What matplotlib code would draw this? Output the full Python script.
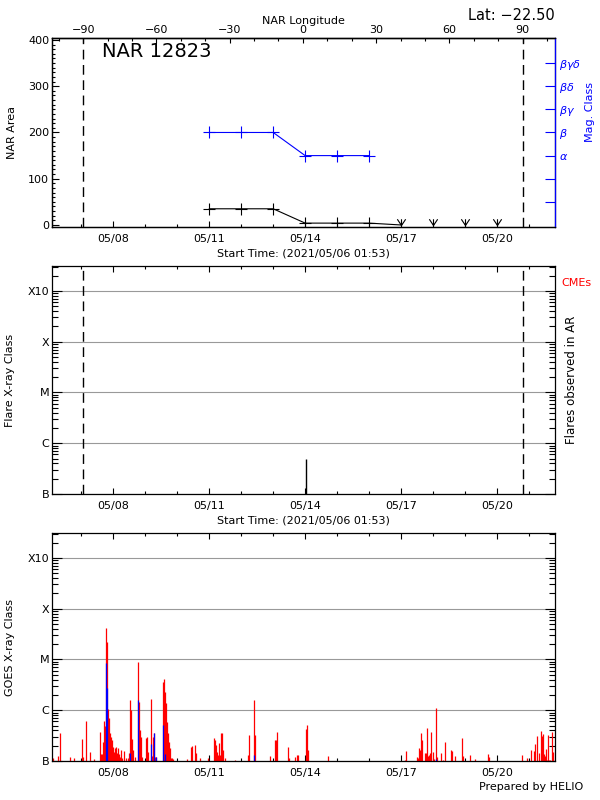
import numpy as np
import matplotlib
matplotlib.use("Agg")
import matplotlib.pyplot as plt
from matplotlib.path import Path
from matplotlib.ticker import MultipleLocator, LogLocator, NullFormatter, FixedLocator

plt.rcParams['font.family'] = ['DejaVu Sans']
plt.rcParams['axes.linewidth'] = 0.9

# ---------------- data (time in hours since 2021/05/06 00:00) ----------------
t_start = 1.88          # 01:53
t_end = 379.88
date_ticks = [48, 120, 192, 264, 336]
date_labels = ['05/08', '05/11', '05/14', '05/17', '05/20']
day_ticks = list(range(24, 380, 24))

# NAR 12823 area (black) and mag. class (blue)
nar_t = [120, 144, 168, 192, 216, 240, 264, 288, 312, 336]
nar_area = [35, 35, 35, 4, 4, 4, 0, 0, 0, 0]
mag_t = [120, 144, 168, 192, 216, 240]
mag_val = [200, 200, 200, 150, 150, 150]
mag_ticks = [50, 100, 150, 200, 250, 300, 350]
mag_labels = ['', '', r'$\alpha$', r'$\beta$', r'$\beta\gamma$', r'$\beta\delta$', r'$\beta\gamma\delta$']

# longitude axis
lon_ticks = [-90, -60, -30, 0, 30, 60, 90]
lon0_t = 190.3      # central meridian time
lon_rate = 0.5455   # deg / hour
limb_lon = [-90, 90]

# flares observed in AR
flare_t = [192.5]
flare_flux = [4.9e-7]

# GOES X-ray flux (red) and AR flares part (blue)
goes_t = [2.5, 6.0, 7.5, 15.75, 18.75, 24.5, 25.25, 27.5, 30.75, 33.75,
          38.0, 38.75, 39.75, 40.5, 41.25, 42.0, 42.5, 43.25, 44.0, 44.75,
          45.5, 46.25, 47.0, 47.75, 48.5, 49.25, 50.0, 50.75, 51.5, 52.25,
          53.0, 53.75, 54.5, 56.0, 57.5, 58.75, 59.75, 60.75, 61.25, 62.0,
          62.75, 64.5, 66.5, 67.25, 68.0, 68.75, 69.5, 72.75, 73.5, 74.25,
          76.5, 77.25, 78.0, 78.75, 79.5, 80.25, 85.5, 86.25, 87.0, 87.75,
          88.5, 89.25, 90.0, 90.75, 91.5, 92.25, 93.0, 103.5, 106.5, 107.25,
          109.5, 110.25, 113.25, 119.25, 123.25, 124.0, 124.75, 125.5, 126.25, 127.0,
          127.75, 128.5, 129.25, 130.0, 131.5, 139.5, 149.25, 150.0, 153.75, 154.5,
          165.75, 169.5, 170.25, 171.0, 179.25, 180.0, 184.5, 186.0, 186.75, 192.75,
          193.5, 194.25, 209.25, 267.0, 267.75, 276.0, 276.75, 277.5, 278.25, 279.0,
          279.75, 282.0, 282.75, 283.5, 284.25, 285.0, 285.75, 286.5, 288.0, 288.75,
          290.25, 291.0, 294.0, 295.5, 297.0, 301.5, 302.25, 304.5, 309.75, 310.5,
          315.75, 319.5, 329.25, 330.0, 354.75, 358.5, 361.5, 363.75, 364.5, 366.0,
          367.5, 369.0, 369.75, 370.5, 371.25, 372.0, 372.75, 373.5, 374.25, 375.0,
          375.75, 377.25, 378.0]
goes_flux = [1.13e-7, 1.27e-7, 3.55e-7, 1.22e-7, 1.16e-7, 2.75e-7, 1.22e-7, 6.1e-7, 1.53e-7, 1.08e-7,
             3.77e-7, 1.35e-7, 1.35e-7, 2.4e-7, 6.1e-7, 4.9e-7, 4.2e-5, 2.2e-5, 1.08e-6, 6.9e-7,
             3.5e-7, 3.0e-7, 2.59e-7, 1.91e-7, 1.53e-7, 1.77e-7, 1.85e-7, 1.41e-7, 1.77e-7, 1.35e-7,
             1.22e-7, 1.64e-7, 1.16e-7, 1.57e-7, 1.13e-7, 1.16e-7, 1.41e-7, 1.58e-6, 1.0e-6, 2.75e-7,
             1.64e-7, 1.22e-7, 8.9e-6, 1.47e-6, 4.06e-7, 3.0e-7, 1.22e-7, 2.79e-7, 3.0e-7, 1.48e-7,
             1.7e-6, 1.25e-7, 2.92e-7, 3.5e-7, 1.22e-7, 1.22e-7, 3.6e-6, 4.1e-6, 2.3e-6, 1.4e-6,
             5.9e-7, 3.6e-7, 2.4e-7, 1.77e-7, 1.16e-7, 1.16e-7, 1.08e-7, 1.08e-7, 1.91e-7, 2.0e-7,
             2.06e-7, 1.46e-7, 1.16e-7, 1.16e-7, 2.79e-7, 2.59e-7, 2.06e-7, 1.53e-7, 1.31e-7, 2.22e-7,
             1.31e-7, 3.5e-7, 3.6e-7, 1.64e-7, 1.13e-7, 1.05e-7, 1.31e-7, 3.24e-7, 1.58e-6, 3.24e-7,
             1.25e-7, 2.59e-7, 2.59e-7, 3.7e-7, 1.91e-7, 1.16e-7, 1.22e-7, 1.31e-7, 1.31e-7, 4.25e-7,
             5.1e-7, 1.64e-7, 1.25e-7, 1.05e-7, 1.57e-7, 1.22e-7, 1.13e-7, 1.77e-7, 1.64e-7, 3.5e-7,
             2.59e-7, 1.41e-7, 1.41e-7, 4.5e-7, 1.25e-7, 1.31e-7, 1.41e-7, 3.66e-7, 1.48e-7, 1.08e-7,
             1.1e-6, 1.22e-7, 1.41e-7, 1.05e-7, 2.4e-7, 1.64e-7, 1.57e-7, 1.25e-7, 2.87e-7, 1.25e-7,
             1.31e-7, 1.1e-7, 1.37e-7, 1.22e-7, 1.31e-7, 1.16e-7, 1.64e-7, 1.57e-7, 2.16e-7, 3.1e-7,
             1.41e-7, 3.9e-7, 3.15e-7, 3.39e-7, 1.35e-7, 1.25e-7, 1.72e-7, 1.05e-7, 3.24e-7, 1.05e-7,
             1.05e-7, 3.77e-7, 1.53e-7]
blue_t = [42.5, 43.25, 60.75, 66.5, 76.5, 78.75, 80.25, 85.5, 87.0, 153.75, 290.25]
blue_flux = [8.5e-6, 2.7e-6, 1.41e-7, 1.58e-6, 2.16e-7, 3.5e-7, 1.22e-7, 5.1e-7, 1.35e-7, 1.31e-7, 1.08e-7]

class_ticks = [1e-7, 1e-6, 1e-5, 1e-4, 1e-3]
class_labels = ['B', 'C', 'M', 'X', 'X10']

fs = 8
start_label = 'Start Time: (2021/05/06 01:53)'

fig = plt.figure(figsize=(6, 8), dpi=100)
L, W = 0.0867, 0.8388


def time_axis(ax, labels=True, top=True):
    ax.set_xlim(t_start, t_end)
    ax.xaxis.set_major_locator(FixedLocator(date_ticks))
    ax.xaxis.set_minor_locator(FixedLocator(day_ticks))
    if labels:
        ax.set_xticklabels(date_labels)
    ax.tick_params(axis='x', which='major', direction='in', length=4, width=0.8,
                   top=top, labelsize=fs, pad=5)
    ax.tick_params(axis='x', which='minor', direction='in', length=2.4, width=0.8, top=top)


def class_axis(ax):
    ax.set_yscale('log')
    ax.set_ylim(1e-7, 3.1e-3)
    ax.set_yticks(class_ticks)
    ax.set_yticklabels(class_labels)
    ax.yaxis.set_minor_locator(LogLocator(base=10, subs=np.arange(2, 10)))
    ax.yaxis.set_minor_formatter(NullFormatter())
    ax.tick_params(axis='y', which='major', direction='in', length=7, width=0.8,
                   right=True, labelsize=fs, pad=2)
    ax.tick_params(axis='y', which='minor', direction='in', length=4.5, width=0.8, right=True)
    ax.grid(axis='y', which='major', color='0.6', lw=0.8)
    ax.set_axisbelow(True)


limb_t = [lon / lon_rate + lon0_t for lon in limb_lon]
dash = (0, (7, 4))

# ---------------- top panel: NAR area ----------------
ax1 = fig.add_axes([L, 0.7159, W, 0.237])
time_axis(ax1, top=False)
ax1.set_ylim(-5, 405)
ax1.yaxis.set_major_locator(MultipleLocator(100))
ax1.yaxis.set_minor_locator(MultipleLocator(10))
ax1.tick_params(axis='y', which='major', direction='in', length=4.8, width=0.8, labelsize=fs, pad=2)
ax1.tick_params(axis='y', which='minor', direction='in', length=2.4, width=0.8)
ax1.set_ylabel('NAR Area', fontsize=fs)
ax1.yaxis.set_label_coords(-0.07, 0.5)
ax1.set_xlabel(start_label, fontsize=fs, labelpad=3)
for t in limb_t:
    ax1.axvline(t, color='k', lw=1, linestyle=dash)

ax1.plot(nar_t[:7], nar_area[:7], color='k', lw=0.8)
ax1.plot(nar_t[:6], nar_area[:6], 'k+', ms=8, mew=0.8)
down_mark = Path([(0, 0), (-1, 1.5), (0, 0), (0, 1.5), (0, 0), (1, 1.5)],
                 [Path.MOVETO, Path.LINETO, Path.MOVETO, Path.LINETO, Path.MOVETO, Path.LINETO])
ax1.plot(nar_t[6:], nar_area[6:], linestyle='none', marker=down_mark, color='k', ms=9, mew=0.8,
         clip_on=False)
ax1.text(0.099, 0.925, 'NAR 12823', transform=ax1.transAxes, fontsize=14, va='center', ha='left')

ax1r = ax1.twinx()
ax1r.set_ylim(-5, 405)
ax1r.set_yticks(mag_ticks)
ax1r.set_yticklabels(mag_labels)
ax1r.tick_params(axis='y', direction='in', length=7, width=0.8, colors='blue', labelsize=fs, pad=3)
ax1r.spines['right'].set_color('blue')
ax1r.set_ylabel('Mag. Class', color='blue', fontsize=fs)
ax1r.yaxis.set_label_coords(1.059, 0.608)
ax1r.plot(mag_t, mag_val, color='blue', lw=0.8, marker='+', ms=8, mew=0.8)

secax = ax1.secondary_xaxis('top', functions=(lambda t: (t - lon0_t) * lon_rate,
                                              lambda lon: lon / lon_rate + lon0_t))
secax.set_xticks(lon_ticks)
secax.set_xticklabels([str(v).replace('-', '\u2212') for v in lon_ticks])
secax.xaxis.set_minor_locator(MultipleLocator(10))
secax.tick_params(axis='x', which='major', direction='in', length=3.6, width=0.8, labelsize=fs, pad=2)
secax.tick_params(axis='x', which='minor', direction='in', length=2.2, width=0.8)
secax.set_xlabel('NAR Longitude', fontsize=fs, labelpad=1)

fig.text(0.925, 0.981, 'Lat: \u221222.50', fontsize=10.5, ha='right', va='center')

# ---------------- middle panel: flares in AR ----------------
ax2 = fig.add_axes([L, 0.3825, W, 0.285])
class_axis(ax2)
time_axis(ax2)
ax2.set_xlabel(start_label, fontsize=fs, labelpad=3)
ax2.set_ylabel('Flare X-ray Class', fontsize=fs)
ax2.yaxis.set_label_coords(-0.0735, 0.5)
for t in limb_t:
    ax2.axvline(t, color='k', lw=1, linestyle=dash)
ax2.vlines(flare_t, 1e-7, flare_flux, color='k', lw=1)
fig.text(0.935, 1 - 283 / 800, 'CMEs', color='red', fontsize=fs, ha='left', va='center')
fig.text(0.953, 1 - 380 / 800, 'Flares observed in AR', fontsize=8.5, rotation=90,
         ha='center', va='center')

# ---------------- bottom panel: GOES ----------------
ax3 = fig.add_axes([L, 0.04875, W, 0.285])
class_axis(ax3)
time_axis(ax3)
ax3.set_ylabel('GOES X-ray Class', fontsize=fs)
ax3.yaxis.set_label_coords(-0.0735, 0.5)
ax3.vlines(goes_t, 1e-7, goes_flux, color='red', lw=0.9)
ax3.vlines(blue_t, 1e-7, blue_flux, color='blue', lw=0.9)
fig.text(0.972, 1 - 787 / 800, 'Prepared by HELIO', fontsize=fs, ha='right', va='center')

fig.savefig('out.png', dpi=100)
